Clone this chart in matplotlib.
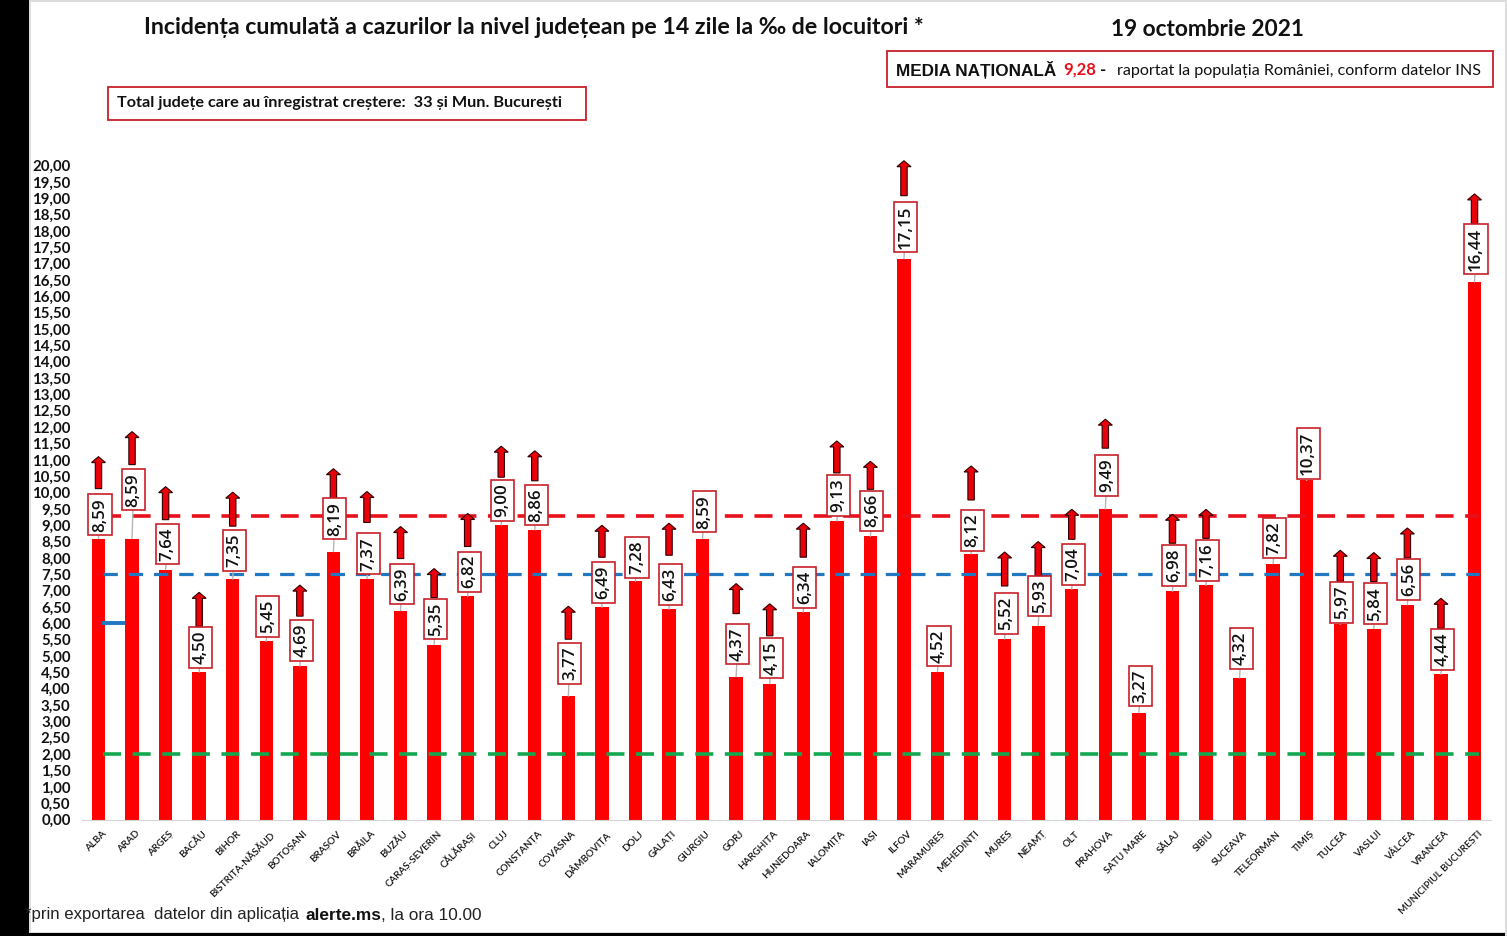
"""Incidenta cumulata pe judete, 19 octombrie 2021."""
import matplotlib
matplotlib.use("Agg")
import matplotlib.pyplot as plt
from matplotlib.patches import Polygon, Rectangle
from matplotlib.transforms import Affine2D, IdentityTransform

W, H = 1507, 936
RED, BOX_RED = "#ff0000", "#c8202a"
SANS, ARIAL, VALS = "Lato", "Liberation Sans", "Open Sans"

judete = ["ALBA", "ARAD", "ARGEȘ", "BACĂU", "BIHOR", "BISTRIȚA-NĂSĂUD", "BOTOȘANI", "BRAȘOV",
          "BRĂILA", "BUZĂU", "CARAȘ-SEVERIN", "CĂLĂRAȘI", "CLUJ", "CONSTANȚA", "COVASNA",
          "DÂMBOVIȚA", "DOLJ", "GALAȚI", "GIURGIU", "GORJ", "HARGHITA", "HUNEDOARA", "IALOMIȚA",
          "IAȘI", "ILFOV", "MARAMUREȘ", "MEHEDINȚI", "MUREȘ", "NEAMȚ", "OLT", "PRAHOVA",
          "SATU MARE", "SĂLAJ", "SIBIU", "SUCEAVA", "TELEORMAN", "TIMIȘ", "TULCEA", "VASLUI",
          "VÂLCEA", "VRANCEA", "MUNICIPIUL BUCUREȘTI"]
incidenta = [8.59, 8.59, 7.64, 4.50, 7.35, 5.45, 4.69, 8.19, 7.37, 6.39, 5.35, 6.82, 9.00, 8.86,
             3.77, 6.49, 7.28, 6.43, 8.59, 4.37, 4.15, 6.34, 9.13, 8.66, 17.15, 4.52, 8.12, 5.52,
             5.93, 7.04, 9.49, 3.27, 6.98, 7.16, 4.32, 7.82, 10.37, 5.97, 5.84, 6.56, 4.44, 16.44]
crestere = [1, 1, 1, 1, 1, 0, 1, 1, 1, 1, 1, 1, 1, 1, 1, 1, 0, 1, 0, 1, 1, 1, 1, 1, 1, 0, 1, 1,
            1, 1, 1, 0, 1, 1, 0, 0, 0, 1, 1, 1, 1, 1]
media_nationala = 9.28
prag_albastru = 7.5
prag_verde = 2.0
y_ticks = [i * 0.5 for i in range(41)]

# pozitii in pixeli fata de varful barei
label_gap = [2, 27, 4, 3, 7, 3, 4, 11, 3, 5, 4, 3, 3, 3, 11, 3, 2, 3, 5, 11, 4, 3, 4, 4, 5, 4, 2,
             4, 8, 3, 12, 5, 4, 3, 8, 4, 0, 0, 3, 4, 3, 6]
arrow_base = [50, 74, 50, 46, 53, 0, 50, 53, 56, 52, 47, 50, 48, 49, 57, 50, 0, 54, 0, 63, 48, 55,
              48, 47, 63, 0, 54, 53, 50, 50, 61, 0, 48, 47, 0, 0, 0, 43, 47, 47, 46, 58]
arrow_len = [32, 33, 33, 34, 34, 0, 31, 30, 31, 32, 29, 33, 31, 30, 33, 32, 0, 32, 0, 30, 32, 34,
             32, 28, 35, 0, 34, 34, 34, 30, 29, 0, 29, 29, 0, 0, 0, 31, 29, 30, 30, 30]


def fx(x):
    return x / W


def fy(y):
    return 1 - y / H


def box(fig, x0, y0, x1, y1):
    fig.add_artist(Rectangle((fx(x0), fy(y1)), (x1 - x0) / W, (y1 - y0) / H, transform=fig.transFigure,
                             fc="white", ec=BOX_RED, lw=1.3))


def arrow(ax, x, y, base, length):
    # sageata desenata in pixeli, deasupra barei
    b, t = y + base, y + base + length
    pts = [(x - 3.2, b), (x + 3.2, b), (x + 3.2, t - 6), (x + 7, t - 6), (x, t), (x - 7, t - 6), (x - 3.2, t - 6)]
    ax.add_patch(Polygon(pts, closed=True, transform=IdentityTransform(), fc="#e8000b", ec="#300000",
                         lw=0.8, zorder=5, clip_on=False))


fig = plt.figure(figsize=(W / 100, H / 100), dpi=100, facecolor="white")
ax = fig.add_axes([fx(81.7), fy(819.5), (1491.3 - 81.7) / W, (819.5 - 165.5) / H])

x = list(range(len(judete)))
x_linii = [i + 0.14 for i in x]
ax.bar(x, incidenta, width=0.4, color=RED, zorder=2)
ax.plot(x_linii, [media_nationala] * len(x), color="#e8101a", lw=2.6, dashes=(5, 3.2), zorder=3)
ax.plot(x_linii, [prag_albastru] * len(x), color="#1f78c1", lw=2.3, dashes=(4.5, 3.4), zorder=3)
ax.plot(x_linii, [prag_verde] * len(x), color="#12a84f", lw=2.6, dashes=(5, 3.2), zorder=3)
ax.plot([0.1, 1.14], [6, 6], color="#1f78c1", lw=2.8, dashes=(6, 6), zorder=3)

ax.set_xlim(-0.5, len(x) - 0.5)
ax.set_ylim(0, 20)
for s in ("top", "right", "left"):
    ax.spines[s].set_visible(False)
ax.spines["bottom"].set_color("#d4d4d4")
ax.patch.set_alpha(0)
ax.set_yticks(y_ticks)
ax.set_yticklabels([f"{v:.2f}".replace(".", ",") for v in y_ticks], fontfamily=SANS, fontweight="bold",
                   fontsize=10.8, color="#111111")
ax.tick_params(axis="y", length=0, pad=8)
ax.tick_params(axis="x", length=0, pad=7)
ax.set_xticks(x)
ax.set_xticklabels(judete, rotation=45, ha="right", va="top", rotation_mode="anchor",
                   fontfamily=SANS, fontweight=600, fontsize=7.15, color="#111111")
for lab in ax.get_xticklabels():
    lab.set_transform(lab.get_transform() + Affine2D().translate(3, 0))

fig.canvas.draw()
for i, v in enumerate(incidenta):
    ax.annotate(f"{v:.2f}".replace(".", ","), xy=(i, v), xytext=(1.5, label_gap[i] + 5), textcoords="offset pixels",
                rotation=90, ha="center", va="bottom", fontfamily=VALS, fontweight=600, fontsize=12.2,
                color="#111111", zorder=6,
                bbox=dict(boxstyle="square,pad=0.21", fc="white", ec=BOX_RED, lw=1.2),
                arrowprops=dict(arrowstyle="-", color="#b5b5b5", lw=1, shrinkA=0, shrinkB=0))
    if crestere[i]:
        px, py = ax.transData.transform((i, v))
        arrow(ax, px, py, arrow_base[i], arrow_len[i])

# titlu si casete
fig.text(fx(144), fy(27), "Incidența cumulată a cazurilor la nivel județean pe 14 zile la ‰ de locuitori *",
         fontfamily=SANS, fontweight="bold", fontsize=16.7, va="center", color="#111111")
fig.text(fx(1111), fy(29), "19 octombrie 2021", fontfamily=SANS, fontweight="bold", fontsize=16.3,
         va="center", color="#111111")
box(fig, 887, 51, 1493, 87)
fig.text(fx(896), fy(70), "MEDIA NAȚIONALĂ", fontfamily=ARIAL, fontweight="bold", fontsize=12.3, va="center",
         color="#111111", zorder=5)
fig.text(fx(1063), fy(70), "9,28", fontfamily=SANS, fontweight="bold", fontsize=12, va="center",
         color="#e8101a", zorder=5)
fig.text(fx(1100), fy(70), "-", fontfamily=SANS, fontweight="bold", fontsize=12, va="center",
         color="#111111", zorder=5)
fig.text(fx(1117), fy(71), "raportat la populația României, conform datelor INS", fontfamily=SANS,
         fontsize=11.6, va="center", color="#111111", zorder=5)
box(fig, 108, 87, 586, 120)
fig.text(fx(117), fy(103), "Total județe care au înregistrat creștere:  33 și Mun. București", fontfamily=SANS,
         fontweight="bold", fontsize=11.7, va="center", color="#111111", zorder=5)

# nota de subsol
fig.text(fx(25), fy(915), "*prin exportarea  datelor din aplicația", fontfamily=ARIAL, fontsize=12.1,
         va="center", color="#222222", zorder=5)
fig.text(fx(306), fy(915), "alerte.ms", fontfamily=ARIAL, fontweight="bold", fontsize=12.4, va="center",
         color="#111111", zorder=5)
fig.text(fx(381), fy(915), ", la ora 10.00", fontfamily=ARIAL, fontsize=12.4, va="center",
         color="#222222", zorder=5)

# chenarul negru al capturii
fig.add_artist(Rectangle((0, 0), fx(29), 1, transform=fig.transFigure, fc="black", ec="none", zorder=4))
fig.add_artist(Rectangle((fx(29), 0), fx(2), 1, transform=fig.transFigure, fc="#dddddd", ec="none", zorder=4))
fig.add_artist(Rectangle((0, 0), 1, 3 / H, transform=fig.transFigure, fc="black", ec="none", zorder=4))
fig.add_artist(Rectangle((fx(31), 3 / H), 1, 1.5 / H, transform=fig.transFigure, fc="#dddddd", ec="none", zorder=4))
fig.add_artist(Rectangle((fx(31), 1 - 1.5 / H), 1, 1.5 / H, transform=fig.transFigure, fc="#dddddd", ec="none", zorder=4))
fig.add_artist(Rectangle((fx(1505), 0), fx(2), 1, transform=fig.transFigure, fc="#dddddd", ec="none", zorder=4))

fig.savefig("out.png", dpi=100)
